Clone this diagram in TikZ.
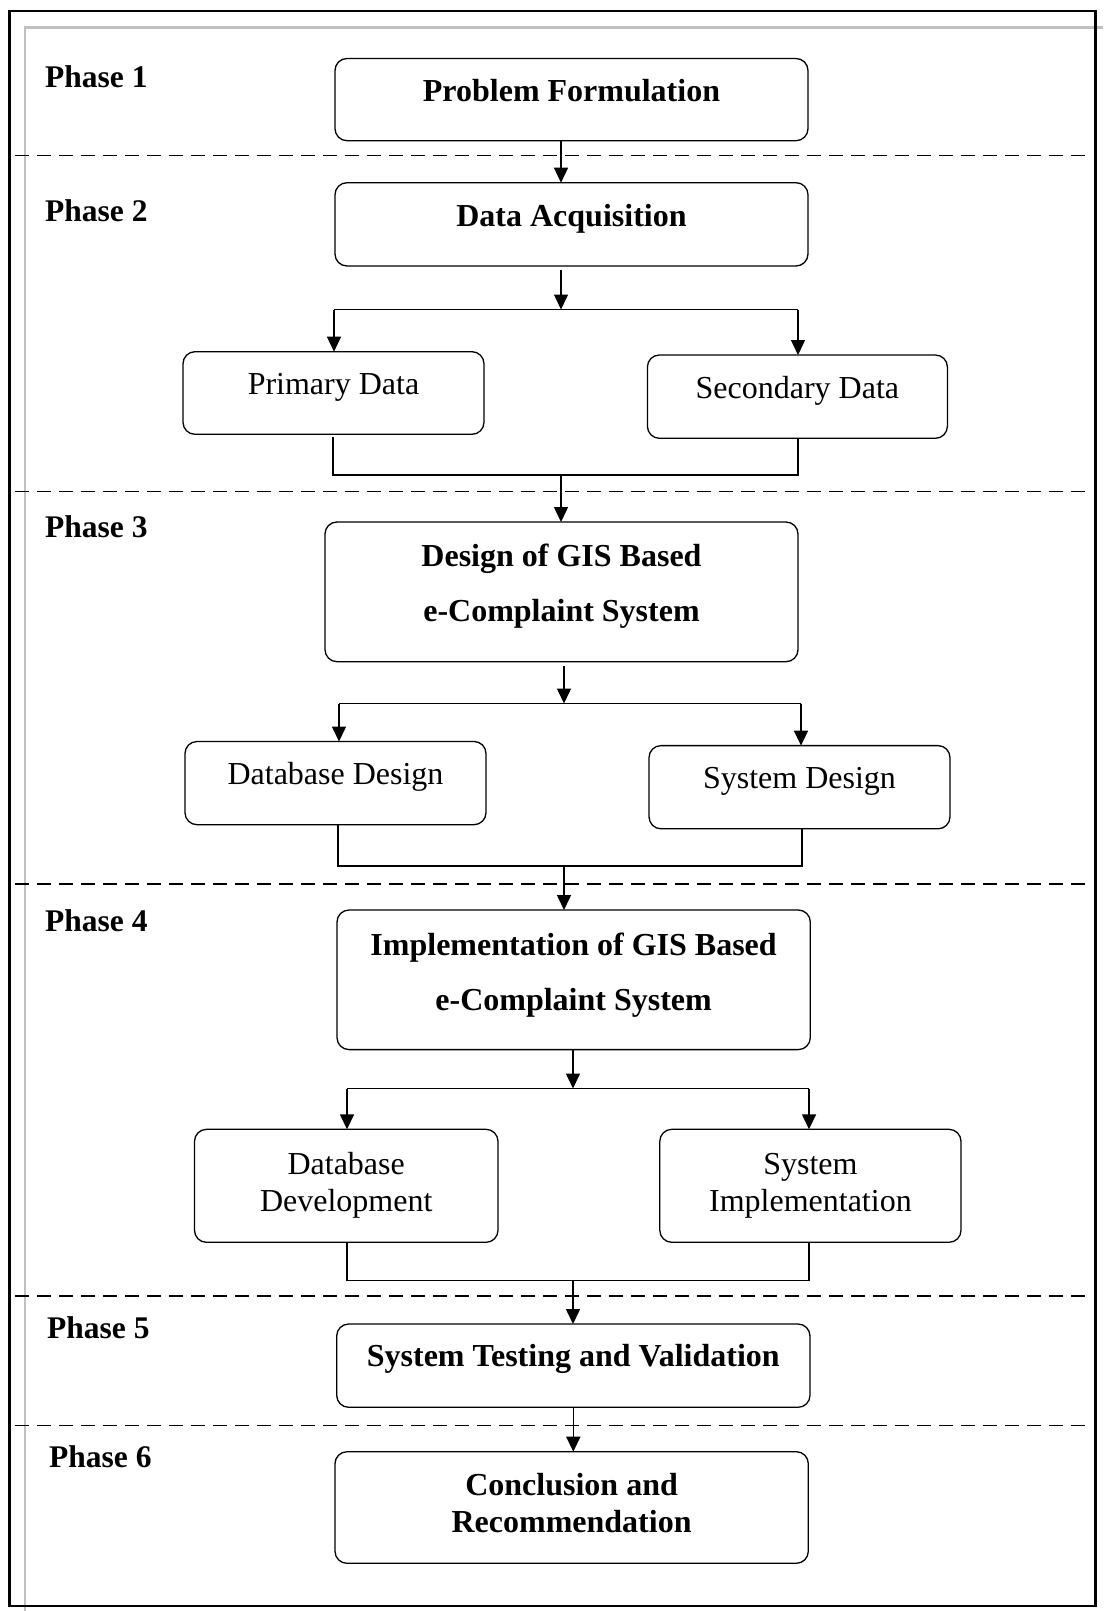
\documentclass[tikz,border=0pt]{standalone}
\usepackage{fontspec}
\setmainfont{Liberation Serif}
\usetikzlibrary{arrows.meta}
\begin{document}
\begin{tikzpicture}[x=1pt,y=-1pt,
  box/.style={draw=black, line width=1.3pt, rounded corners=12pt, inner sep=0pt, outer sep=0pt, anchor=north west},
  bt/.style={font=\fontsize{32}{37}\selectfont\bfseries, anchor=base, inner sep=0pt},
  rt/.style={font=\fontsize{32}{37}\selectfont, anchor=base, inner sep=0pt},
  ph/.style={font=\fontsize{31.5}{36}\selectfont\bfseries, anchor=base west, inner sep=0pt},
  arr/.style={line width=1.5pt, -{Triangle[length=15pt,width=14pt]}},
  con/.style={line width=1.1pt},
  sep/.style={line width=1.5pt, dash pattern=on 14pt off 8pt},
]
\useasboundingbox (0,0) rectangle (1103,1611);
\fill[white] (0,0) rectangle (1103,1611);
% page frames
\draw[line width=2.2pt, color={rgb,255:red,192;green,192;blue,192}] (1103,27.5) -- (25,27.5) -- (25,1611);
\draw[line width=2.2pt, black] (9.5,11) rectangle (1095.5,1606);
% phase separators
\foreach \yy in {155.5,491.5,884,1296,1425.5} \draw[sep] (15,\yy) -- (1085,\yy);
% phase labels
\node[ph] (p1) at (45,87.5) {Phase 1};
\node[ph] (p2) at (45,221) {Phase 2};
\node[ph] (p3) at (45,537.5) {Phase 3};
\node[ph] (p4) at (45,931.5) {Phase 4};
\node[ph] (p5) at (47,1338.5) {Phase 5};
\node[ph] (p6) at (49,1467) {Phase 6};
% boxes
\node[box, minimum width=473pt, minimum height=82.2pt] (pf) at (335,58.5) {};
\node[bt] (pft) at (571.5,101) {Problem Formulation};
\node[box, minimum width=473pt, minimum height=83.3pt] (da) at (335,182.7) {};
\node[bt] (dat) at (571.5,226) {Data Acquisition};
\node[box, minimum width=301pt, minimum height=82.6pt] (pd) at (183,351.7) {};
\node[rt] (pdt) at (333.5,394) {Primary Data};
\node[box, minimum width=300pt, minimum height=83.3pt] (sd) at (647.4,355) {};
\node[rt] (sdt) at (797.4,398.5) {Secondary Data};
\node[box, minimum width=473pt, minimum height=139.7pt] (dg) at (325,522) {};
\node[bt] (dgt1) at (561.5,566.5) {Design of GIS Based};
\node[bt] (dgt2) at (561.5,621.5) {e-Complaint System};
\node[box, minimum width=301pt, minimum height=83.2pt] (dbd) at (185,741.5) {};
\node[rt] (dbdt) at (335.5,784) {Database Design};
\node[box, minimum width=301pt, minimum height=83.2pt] (sysd) at (649,745.6) {};
\node[rt] (sysdt) at (799.5,788) {System Design};
\node[box, minimum width=473.3pt, minimum height=139.6pt] (imp) at (337,910) {};
\node[bt] (impt1) at (573.6,955.5) {Implementation of GIS Based};
\node[bt] (impt2) at (573.6,1010) {e-Complaint System};
\node[box, minimum width=303.5pt, minimum height=113pt] (dev) at (194.5,1129.3) {};
\node[rt] (devt1) at (346.2,1174.5) {Database};
\node[rt] (devt2) at (346.2,1211.5) {Development};
\node[box, minimum width=301.2pt, minimum height=113pt] (si) at (659.8,1129.3) {};
\node[rt] (sit1) at (810.4,1174.5) {System};
\node[rt] (sit2) at (810.4,1211.5) {Implementation};
\node[box, minimum width=473.3pt, minimum height=83.3pt] (st) at (336.7,1324) {};
\node[bt] (stt) at (573.3,1366.7) {System Testing and Validation};
\node[box, minimum width=473.3pt, minimum height=111.6pt] (cr) at (335,1451.7) {};
\node[bt] (crt1) at (571.6,1495) {Conclusion and};
\node[bt] (crt2) at (571.6,1532.5) {Recommendation};
% junction coordinates
\coordinate (a1) at (561,0);
\coordinate (s1) at (561,309.5);
\coordinate (s1l) at (334,309.5);
\coordinate (s1r) at (798,309.5);
\coordinate (m1) at (561,475);
\coordinate (m1l) at (333,475);
\coordinate (m1r) at (798,475);
\coordinate (s2) at (564,703.5);
\coordinate (s2l) at (339,703.5);
\coordinate (s2r) at (801,703.5);
\coordinate (m2) at (564,866);
\coordinate (m2l) at (338,866);
\coordinate (m2r) at (802,866);
\coordinate (s3) at (573,1088.5);
\coordinate (s3l) at (347,1088.5);
\coordinate (s3r) at (809,1088.5);
\coordinate (m3) at (573,1280.7);
\coordinate (m3l) at (347,1280.7);
\coordinate (m3r) at (809,1280.7);
\coordinate (a8) at (573.3,0);
% connectors
\draw[arr] (pf.south -| a1) -- (da.north -| a1);
\draw[arr, shorten <=4pt] (da.south -| s1) -- (s1);
\draw[con] (s1l) -- (s1r);
\draw[arr] (s1l) -- (pd.north -| s1l);
\draw[arr] (s1r) -- (sd.north -| s1r);
\draw[con, shorten <=3pt] (pd.south -| m1l) -- (m1l) -- (m1r) -- (sd.south -| m1r);
\draw[arr] (m1) -- (dg.north -| m1);
\draw[arr, shorten <=4pt] (dg.south -| s2) -- (s2);
\draw[con] (s2l) -- (s2r);
\draw[arr] (s2l) -- (dbd.north -| s2l);
\draw[arr] (s2r) -- (sysd.north -| s2r);
\draw[con] (dbd.south -| m2l) -- (m2l) -- (m2r) -- (sysd.south -| m2r);
\draw[arr] (m2) -- (imp.north -| m2);
\draw[arr] (imp.south -| s3) -- (s3);
\draw[con] (s3l) -- (s3r);
\draw[arr] (s3l) -- (dev.north -| s3l);
\draw[arr] (s3r) -- (si.north -| s3r);
\draw[con] (dev.south -| m3l) -- (m3l) -- (m3r) -- (si.south -| m3r);
\draw[arr] (m3) -- (st.north -| m3);
\draw[arr] (st.south -| a8) -- (cr.north -| a8);
\end{tikzpicture}
\end{document}
